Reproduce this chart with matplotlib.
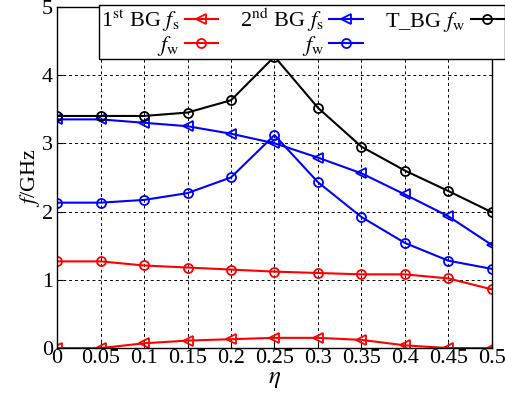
import matplotlib
matplotlib.use("Agg")
import matplotlib.pyplot as plt

plt.rcParams["font.family"] = "Liberation Serif"
plt.rcParams["mathtext.fontset"] = "stix"

eta = [0, 0.05, 0.1, 0.15, 0.2, 0.25, 0.3, 0.35, 0.4, 0.45, 0.5]

bg1_fs = [0, 0, 0.07, 0.11, 0.13, 0.15, 0.15, 0.12, 0.04, 0, 0]
bg1_fw = [1.27, 1.27, 1.21, 1.18, 1.15, 1.12, 1.10, 1.08, 1.08, 1.02, 0.86]
bg2_fs = [3.35, 3.35, 3.30, 3.25, 3.14, 3.00, 2.79, 2.56, 2.25, 1.93, 1.51]
bg2_fw = [2.13, 2.13, 2.17, 2.27, 2.50, 3.12, 2.43, 1.92, 1.54, 1.28, 1.16]
tbg_fw = [3.40, 3.40, 3.40, 3.45, 3.63, 4.27, 3.52, 2.95, 2.60, 2.30, 1.99]

xticks = [0, 0.05, 0.1, 0.15, 0.2, 0.25, 0.3, 0.35, 0.4, 0.45, 0.5]
xticklabels = ["0", "0.05", "0.1", "0.15", "0.2", "0.25", "0.3", "0.35", "0.4", "0.45", "0.5"]

fig = plt.figure(figsize=(5.05, 3.96), dpi=100)
ax = fig.add_axes([0.113, 0.121, 0.861, 0.862])

kw = dict(lw=1.5, ms=6.5, mfc="none", mew=1.3)
ax.plot(eta, bg1_fs, "<-", color="red", label=r"1$^{\rm st}$ BG $f_{\rm s}$", **kw)
ax.plot(eta, bg1_fw, "o-", color="red", label=r"$f_{\rm w}$", **kw)
ax.plot(eta, bg2_fs, "<-", color="blue", label=r"2$^{\rm nd}$ BG $f_{\rm s}$", **kw)
ax.plot(eta, bg2_fw, "o-", color="blue", label=r"$f_{\rm w}$", **kw)
ax.plot(eta, tbg_fw, "o-", color="black", label=r"T_BG $f_{\rm w}$", **kw)

ax.set_xlim(0, 0.5)
ax.set_ylim(0, 5)
ax.set_xticks(xticks)
ax.set_xticklabels(xticklabels)
ax.set_yticks([0, 1, 2, 3, 4, 5])
ax.tick_params(direction="in", labelsize=16, length=4)
ax.tick_params(axis="x", pad=1)
ax.tick_params(axis="y", pad=3)
ax.grid(True, color="black", linestyle=(0, (3, 3)), linewidth=0.7)
for s in ax.spines.values():
    s.set_linewidth(1.0)

ax.set_xlabel(r"$\eta$", fontsize=18, labelpad=0)
ax.set_ylabel(r"$f$/GHz", fontsize=16, labelpad=0)

leg = ax.legend(loc="upper right", bbox_to_anchor=(1.0, 0.988),
                bbox_transform=fig.transFigure, ncol=3, markerfirst=False,
                fontsize=16, fancybox=False, framealpha=1, edgecolor="black",
                borderpad=0.05, labelspacing=0.0, columnspacing=1.0,
                handlelength=1.5, handletextpad=0.25, borderaxespad=0)
leg.get_frame().set_linewidth(1.0)

fig.savefig("out.png", dpi=100)
